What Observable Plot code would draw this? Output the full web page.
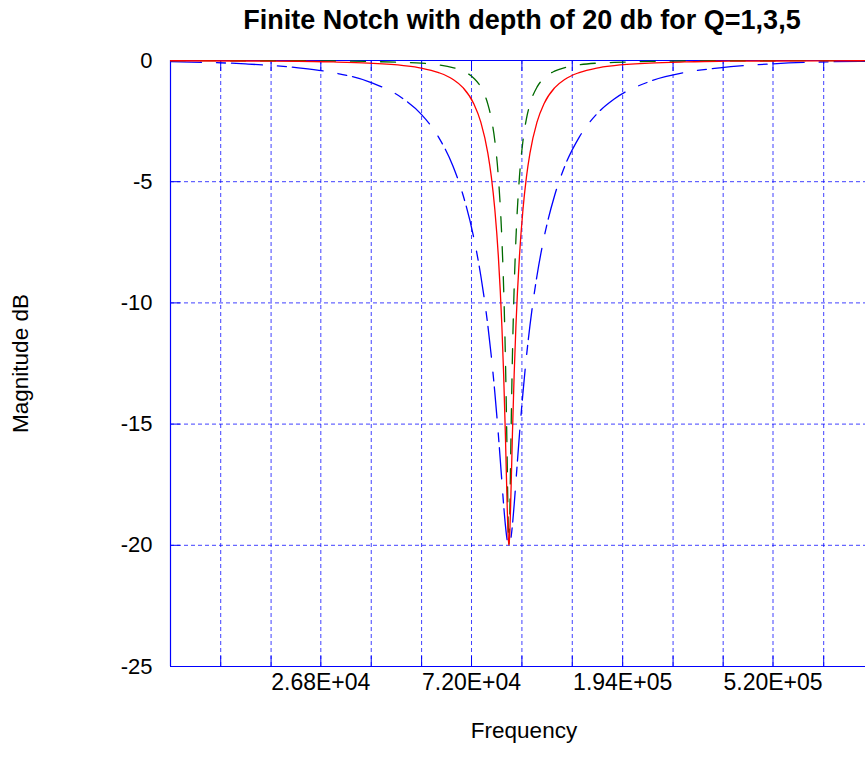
<!DOCTYPE html>
<html>
<head>
<meta charset="utf-8">
<script src="https://cdn.jsdelivr.net/npm/d3@7"></script>
<script src="https://cdn.jsdelivr.net/npm/@observablehq/plot@0.6"></script>
<style>
  html, body { margin: 0; padding: 0; background: #fff; overflow: hidden; }
</style>
</head>
<body>
<div id="chart"></div>
<script>
// Frequency samples (Hz)
const freqs = [10000, 16360, 23109, 29093, 36626, 46109, 51735, 58048, 63648, 68201, 73078, 76522, 80129, 81995, 83905, 85859, 87859, 88877, 89906, 90947, 91472, 92000, 92531, 93065, 94143, 95233, 96336, 98580, 100876, 103226, 105630, 110608, 115821, 124105, 132980, 145810, 163602, 183564, 231094, 290930, 366259, 517354, 920000, 1000000];
// Magnitude (dB) for Q=1 (blue, dash-dot)
const magQ1 = [-0.05, -0.14, -0.30, -0.50, -0.87, -1.59, -2.21, -3.17, -4.33, -5.58, -7.31, -8.88, -10.93, -12.21, -13.71, -15.44, -17.37, -18.33, -19.17, -19.78, -19.94, -20, -19.94, -19.78, -19.17, -18.33, -17.37, -15.44, -13.71, -12.21, -10.93, -8.88, -7.31, -5.58, -4.33, -3.17, -2.21, -1.59, -0.87, -0.50, -0.30, -0.14, -0.04, -0.04];
// Magnitude (dB) for Q=3 (red, solid)
const magQ3 = [-0.01, -0.02, -0.03, -0.06, -0.11, -0.21, -0.31, -0.50, -0.77, -1.13, -1.78, -2.54, -3.82, -4.80, -6.16, -8.09, -10.95, -12.94, -15.44, -18.33, -19.52, -20, -19.52, -18.33, -15.44, -12.94, -10.95, -8.09, -6.16, -4.80, -3.82, -2.54, -1.78, -1.13, -0.77, -0.50, -0.31, -0.21, -0.11, -0.06, -0.03, -0.02, -0.01, 0];
// Magnitude (dB) for Q=5 (green, dashed)
const magQ5 = [0, -0.01, -0.01, -0.02, -0.04, -0.08, -0.11, -0.18, -0.29, -0.44, -0.73, -1.10, -1.80, -2.40, -3.32, -4.81, -7.37, -9.37, -12.23, -16.39, -18.77, -20, -18.77, -16.39, -12.23, -9.37, -7.37, -4.81, -3.32, -2.40, -1.80, -1.10, -0.73, -0.44, -0.29, -0.18, -0.11, -0.08, -0.04, -0.02, -0.01, -0.01, 0, 0];

// Axis ticks
const gridFreqs = [13900, 19340, 26800, 37300, 51900, 72000, 100200, 139400, 194000, 270000, 375000, 520000, 725000];
const tickFreqs = [26800, 72000, 194000, 520000];
const tickLabels = ["2.68E+04", "7.20E+04", "1.94E+05", "5.20E+05"];
const yTicks = [0, -5, -10, -15, -20, -25];
const yGrid = [-5, -10, -15, -20];

const titleText = "Finite Notch with depth of 20 db for Q=1,3,5";
const xLabel = "Frequency";
const yLabel = "Magnitude dB";

const rows = freqs.map((f, i) => ({f, q1: magQ1[i], q3: magQ3[i], q5: magQ5[i]}));
const xTickRows = tickFreqs.map((f, i) => ({f, label: tickLabels[i]}));

const FONT = "'Liberation Sans', Arial, Helvetica, sans-serif";
const BLUE = "#0000ff";

const chart = Plot.plot({
  width: 865,
  height: 772,
  marginLeft: 170,
  marginRight: 0,
  marginTop: 60,
  marginBottom: 106,
  style: {fontFamily: FONT, fontSize: "23px", color: "black", background: "white"},
  x: {type: "log", domain: [1e4, 953700]},
  y: {domain: [-25, 0]},
  marks: [
    Plot.gridX(gridFreqs, {stroke: BLUE, strokeOpacity: 0.75, strokeDasharray: "4,3"}),
    Plot.gridY(yGrid, {stroke: BLUE, strokeOpacity: 0.75, strokeDasharray: "4,3"}),
    Plot.axisX(gridFreqs, {anchor: "bottom", tickSize: -10, text: null, stroke: BLUE, strokeOpacity: 1, label: null}),
    Plot.axisX(gridFreqs, {anchor: "top", tickSize: -10, text: null, stroke: BLUE, strokeOpacity: 1, label: null}),
    Plot.axisY(yGrid, {anchor: "left", tickSize: -10, text: null, stroke: BLUE, strokeOpacity: 1, label: null}),
    Plot.text(xTickRows, {x: "f", text: "label", frameAnchor: "bottom", lineAnchor: "middle", dy: 16, fontSize: 23, fill: "black"}),
    Plot.axisY(yTicks, {anchor: "left", tickSize: 0, tickPadding: 18, tickFormat: d => String(d), label: null, fill: "black", fontSize: 22}),
    Plot.ruleY([0], {stroke: BLUE, strokeWidth: 1.2}),
    Plot.ruleY([-25], {stroke: BLUE, strokeWidth: 1.2}),
    Plot.ruleX([1e4], {stroke: BLUE, strokeWidth: 1.2}),
    Plot.line(rows, {x: "f", y: "q1", stroke: BLUE, strokeWidth: 1.3, strokeDasharray: "31,15,9,6", curve: "monotone-x", clip: true}),
    Plot.line(rows, {x: "f", y: "q5", stroke: "#006a00", strokeWidth: 1.3, strokeDasharray: "15,15", curve: "monotone-x", clip: true}),
    Plot.line(rows, {x: "f", y: "q3", stroke: "#ff0000", strokeWidth: 1.3, curve: "monotone-x", clip: true}),
    Plot.text([titleText], {text: d => d, frameAnchor: "top", lineAnchor: "middle", dy: -40, dx: 4, fontWeight: "bold", fontSize: 27, fill: "black"}),
    Plot.text([xLabel], {text: d => d, frameAnchor: "bottom", lineAnchor: "middle", dy: 64, dx: 6, fontSize: 22.5, fill: "black"}),
    Plot.text([yLabel], {text: d => d, frameAnchor: "left", textAnchor: "middle", lineAnchor: "middle", dx: -150, rotate: -90, fontSize: 22.5, fill: "black"})
  ]
});
document.getElementById("chart").appendChild(chart);
</script>
</body>
</html>
